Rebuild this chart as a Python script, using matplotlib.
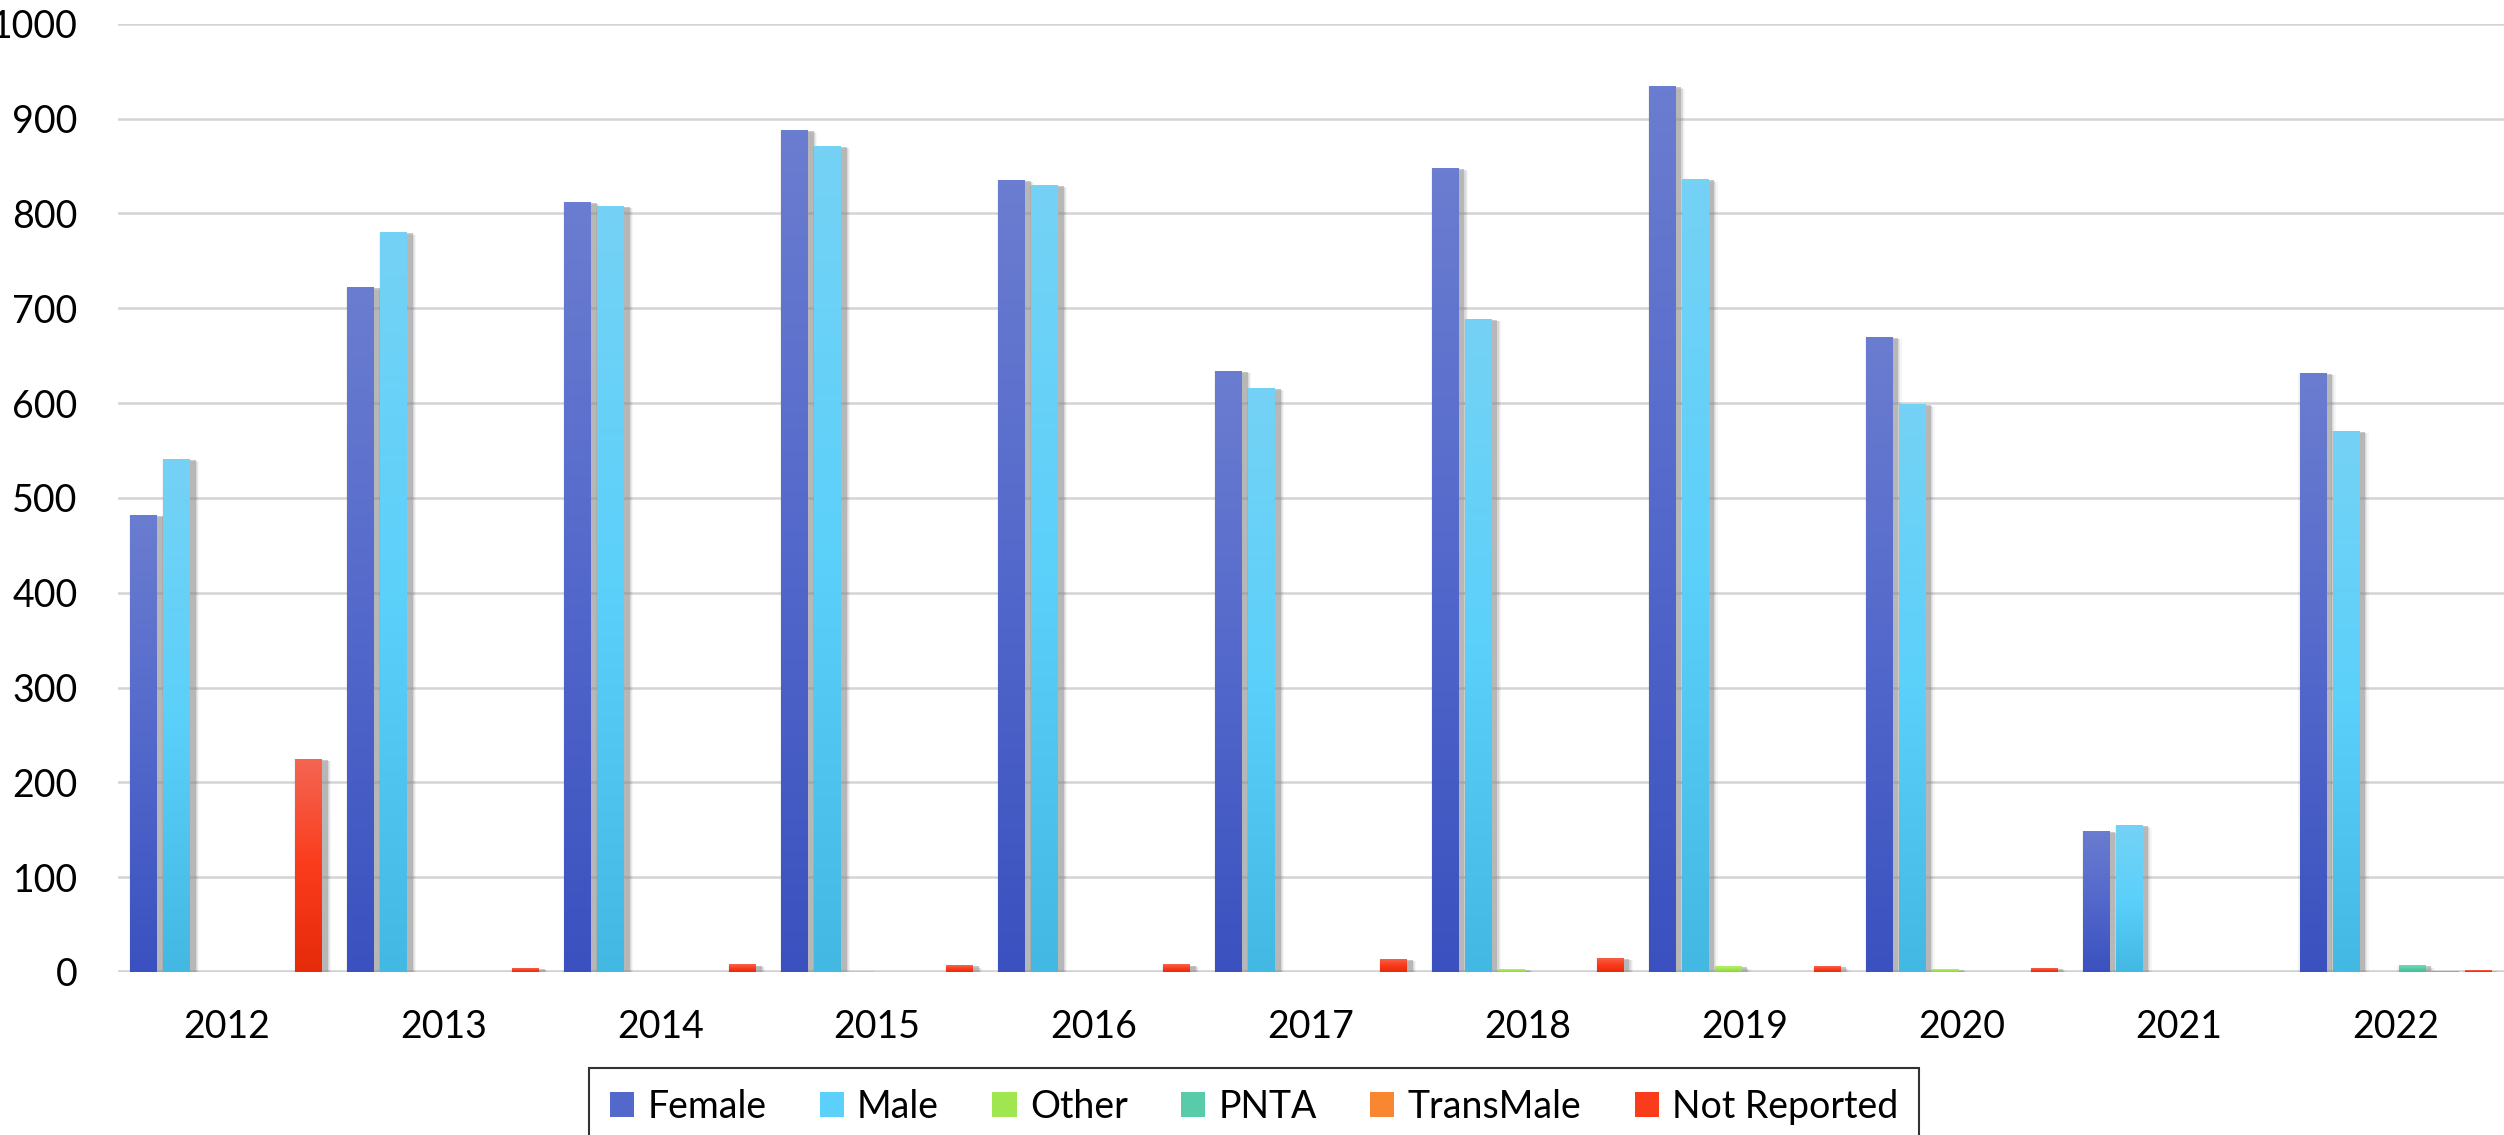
"""Grouped bars by gender and year, Excel-style gradient fill with soft shadows.

Output: out.png
"""
import matplotlib
matplotlib.use("Agg")

import matplotlib.pyplot as plt
import matplotlib.patheffects as pe
import numpy as np
from matplotlib.colors import LinearSegmentedColormap
from matplotlib.patches import Patch

plt.rcParams["font.family"] = ["Lato", "DejaVu Sans"]

years = ["2012", "2013", "2014", "2015", "2016", "2017",
         "2018", "2019", "2020", "2021", "2022"]
female = [482, 722, 812, 888, 835, 634, 848, 934, 670, 149, 632]
male = [541, 780, 808, 871, 830, 616, 689, 836, 599, 155, 571]
other = [0, 0, 0, 1, 0, 0, 3, 6, 3, 0, 0]
pnta = [0, 0, 0, 0, 0, 0, 0, 0, 0, 0, 7]
trans_male = [0, 0, 0, 0, 0, 0, 0, 0, 0, 0, 1]
not_reported = [225, 4, 8, 7, 8, 14, 15, 6, 4, 0, 2]

series_names = ["Female", "Male", "Other", "PNTA", "TransMale", "Not Reported"]
series_values = [female, male, other, pnta, trans_male, not_reported]

# (top, middle, bottom) gradient stops per series
gradients = [
    ("#6b7dd0", "#5368cb", "#3a51bf"),
    ("#75d2f5", "#5bd0fa", "#42b8e2"),
    ("#b2ef6c", "#a0e650", "#8ad63a"),
    ("#72d9b9", "#58cca8", "#3fbe97"),
    ("#ff9c52", "#f98630", "#e06c10"),
    ("#f46653", "#fb3c1c", "#e52b0a"),
]

W, H = 2504, 1135
fig = plt.figure(figsize=(W / 100, H / 100), dpi=100)
left_px, base_px, top_px = 118, 972, 23.7
ax = fig.add_axes([left_px / W, 1 - base_px / H, 1 - left_px / W, (base_px - top_px) / H])

pitch = 33 / 217
width = 27 / 217
x = np.arange(len(years))


def gradient_fill(rect, stops):
    h = rect.get_height()
    if h <= 0:
        return
    x0 = rect.get_x()
    cmap = LinearSegmentedColormap.from_list("g", list(stops[::-1]))
    grad = np.linspace(0, 1, 256).reshape(-1, 1)
    im = ax.imshow(grad, cmap=cmap, origin="lower", aspect="auto",
                   extent=(x0, x0 + rect.get_width(), 0, h),
                   interpolation="bilinear", zorder=rect.get_zorder() + 0.1)
    im.set_clip_path(rect)


# stacked offsets fake a blurred drop shadow to the right of each bar
shadow = [pe.SimplePatchShadow(offset=(d, -0.3 * d), shadow_rgbFace="#000000", alpha=a)
          for d, a in [(6.5, 0.035), (5.5, 0.05), (4.8, 0.07)]]
shadow += [pe.SimplePatchShadow(offset=(4.0, -0.8), shadow_rgbFace="#9c9c9c", alpha=0.55),
           pe.SimplePatchShadow(offset=(-0.8, -0.5), shadow_rgbFace="#000000", alpha=0.05),
           pe.Normal()]

for k, (vals, stops) in enumerate(zip(series_values, gradients)):
    bars = ax.bar(x + (k - 2.5) * pitch, vals, width, color=stops[1],
                  linewidth=0, zorder=3)
    for rect in bars:
        if rect.get_height() > 0:
            rect.set_path_effects(shadow)
        gradient_fill(rect, stops)

ax.set_xlim(-0.5, len(years) - 0.5)
ax.set_ylim(0, 1000)

ax.set_yticks(range(0, 1001, 100))
ax.set_xticks(x)
ax.set_xticklabels(years)
ax.tick_params(axis="both", length=0, labelsize=27, colors="black")
ax.tick_params(axis="x", pad=27)
ax.tick_params(axis="y", pad=29)

ax.yaxis.grid(True, color="#d4d4d4", linewidth=1.8)
ax.set_axisbelow(True)
for s in ax.spines.values():
    s.set_visible(False)
ax.axhline(0, color="#d2d2d2", linewidth=2.6, zorder=2)

handles = [Patch(facecolor=g[1], edgecolor="none") for g in gradients]
leg = fig.legend(handles, series_names, loc="upper center",
                 bbox_to_anchor=(1254 / W, 1 - 1068 / H), ncol=6,
                 fontsize=27, frameon=True, fancybox=False,
                 edgecolor="black", handlelength=0.65, handleheight=0.65,
                 handletextpad=0.35, columnspacing=1.42, borderpad=0.55,
                 borderaxespad=0)
leg.get_frame().set_linewidth(1.5)

fig.savefig("out.png", dpi=100, facecolor="white")
